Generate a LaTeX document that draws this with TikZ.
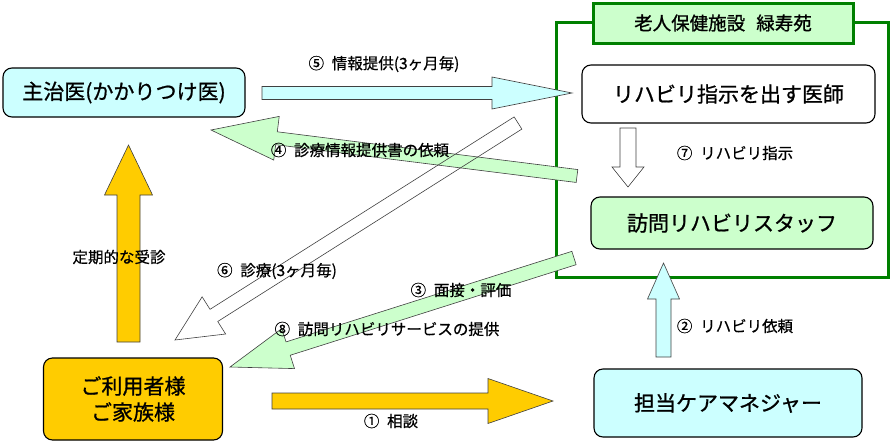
\documentclass[tikz,border=0pt]{standalone}
\usepackage{fontspec}
\setmainfont{Noto Sans CJK JP}
\newfontfamily\jpmed{Noto Sans CJK JP}[FakeBold=0.9]
\newfontfamily\jplbl{Noto Sans CJK JP}[FakeBold=0.6]
\usetikzlibrary{calc}
\definecolor{cyanbg}{HTML}{CCFFFF}
\definecolor{greenbg}{HTML}{CCFFCC}
\definecolor{yelbg}{HTML}{FFCC00}
\definecolor{framegreen}{HTML}{008000}
% #1 style, #2 tail, #3 tip, #4 shaft half width, #5 head half width, #6 head length
\newcommand{\blkarrow}[6]{%
  \coordinate (hb) at ($(#3)!#6!(#2)$);
  \path[#1] ($(#2)!#4!90:(#3)$) -- ($(hb)!#4!90:(#3)$) -- ($(hb)!#5!90:(#3)$) -- (#3)
    -- ($(hb)!#5!-90:(#3)$) -- ($(hb)!#4!-90:(#3)$) -- ($(#2)!#4!-90:(#3)$) -- cycle;
}
\tikzset{
  box/.style={draw=black, line width=1.1pt, rounded corners=9pt,
    font=\jpmed\fontsize{21}{26}\selectfont, align=center, inner sep=0pt},
  lbl/.style={font=\jplbl\fontsize{15.5}{18}\selectfont, inner sep=0pt, text=black},
  arr/.style={draw=black!75, line width=0.6pt, line join=miter},
  arrcyan/.style={arr, fill=cyanbg},
  arrgreen/.style={arr, fill=greenbg},
  arryel/.style={arr, fill=yelbg},
  arrwhite/.style={arr, fill=white},
  arrhollow/.style={arr},
}
\begin{document}
\begin{tikzpicture}[x=1pt, y=-1pt]
\useasboundingbox (0,0) rectangle (891,442);
% facility frame
\draw[framegreen, line width=3pt] (556,22) rectangle (888,277);
\node[draw=framegreen, line width=3pt, fill=greenbg, minimum width=260pt, minimum height=40pt,
  inner sep=0pt, font=\jpmed\fontsize{18.5}{22}\selectfont] (fac) at (723,23) {老人保健施設\hspace{0.6em}緑寿苑};
% boxes
\node[box, fill=cyanbg, minimum width=242pt, minimum height=49pt] (doc) at (124,92.5) {主治医(かかりつけ医)};
\node[box, fill=white, minimum width=293pt, minimum height=58pt] (rdoc) at (728.5,94) {リハビリ指示を出す医師};
\node[box, fill=greenbg, minimum width=282pt, minimum height=52pt] (staff) at (732,223) {訪問リハビリスタッフ};
\node[box, fill=cyanbg, minimum width=268pt, minimum height=68pt] (cm) at (728,403) {担当ケアマネジャー};
\node[box, fill=yelbg, minimum width=179pt, minimum height=82pt] (user) at (133,399) {ご利用者様\\ご家族様};
% arrow end points
\coordinate (a1s) at (272,401);   \coordinate (a1t) at (553,401);
\coordinate (a2s) at (663.5,357); \coordinate (a2t) at (663.5,263);
\coordinate (a3s) at (574,258);   \coordinate (a3t) at (230,367);
\coordinate (a4s) at (577,176);   \coordinate (a4t) at (211,130);
\coordinate (a5s) at (262,93);    \coordinate (a5t) at (572,93);
\coordinate (a6s) at (518,123);   \coordinate (a6t) at (175,340);
\coordinate (a7s) at (628,128);   \coordinate (a7t) at (628,187);
\coordinate (avs) at (128.5,342); \coordinate (avt) at (128.5,145);
% arrows
\blkarrow{arryel}{avs}{avt}{11.5pt}{24pt}{50pt}
\blkarrow{arryel}{a1s}{a1t}{8pt}{22.5pt}{65pt}
\blkarrow{arrcyan}{a2s}{a2t}{7.5pt}{16pt}{36pt}
\blkarrow{arrcyan}{a5s}{a5t}{6.5pt}{16pt}{80pt}
\blkarrow{arrgreen}{a4s}{a4t}{6.5pt}{22pt}{66pt}
\blkarrow{arrhollow}{a6s}{a6t}{7.2pt}{22pt}{46pt}
\blkarrow{arrgreen}{a3s}{a3t}{7pt}{21pt}{61pt}
\blkarrow{arrwhite}{a7s}{a7t}{8pt}{16pt}{20pt}
% labels
\node[lbl] (l5) at (384,64) {⑤\enspace 情報提供(3ヶ月毎)};
\node[lbl] (l4) at (360,150) {④\enspace 診療情報提供書の依頼};
\node[lbl] (l7) at (735,153) {⑦\enspace リハビリ指示};
\node[lbl] (lv) at (119,257) {定期的な受診};
\node[lbl] (l6) at (277,271) {⑥\enspace 診療(3ヶ月毎)};
\node[lbl] (l3) at (461,290) {③\enspace 面接・評価};
\node[lbl] (l2) at (735,326) {②\enspace リハビリ依頼};
\node[lbl] (l8) at (387,329) {⑧\enspace 訪問リハビリサービスの提供};
\node[lbl] (l1) at (391,421) {①\enspace 相談};
\end{tikzpicture}
\end{document}
